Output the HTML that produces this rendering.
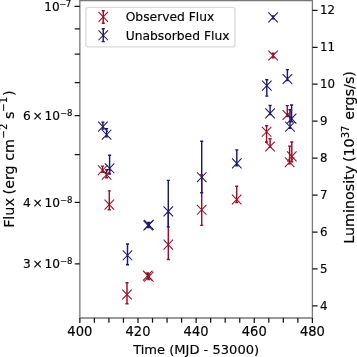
<!DOCTYPE html>
<html><head><meta charset="utf-8"><title>Flux plot</title>
<style>html,body{margin:0;padding:0;background:#fff;}svg{display:block;will-change:transform;}text{stroke:#000;stroke-width:0.16px;}</style>
</head><body>
<svg width="357" height="357" viewBox="0 0 357 357" font-family="'DejaVu Sans', 'Liberation Sans', sans-serif" fill="#000" stroke="none">
<rect width="357" height="357" fill="#fff"/>
<g>
<path d="M102.60 166.10V172.40" stroke="#9a0f27" stroke-width="1.45" fill="none"/>
<path d="M106.60 169.70V177.70" stroke="#9a0f27" stroke-width="1.45" fill="none"/>
<path d="M109.30 190.90V209.80" stroke="#9a0f27" stroke-width="1.45" fill="none"/>
<path d="M127.00 282.70V303.70" stroke="#9a0f27" stroke-width="1.45" fill="none"/>
<path d="M147.70 273.00V278.40" stroke="#9a0f27" stroke-width="1.45" fill="none"/>
<path d="M148.80 274.20V279.60" stroke="#9a0f27" stroke-width="1.45" fill="none"/>
<path d="M168.30 213.00V259.50" stroke="#9a0f27" stroke-width="1.45" fill="none"/>
<path d="M201.70 174.60V225.40" stroke="#9a0f27" stroke-width="1.45" fill="none"/>
<path d="M236.70 186.30V202.50" stroke="#9a0f27" stroke-width="1.45" fill="none"/>
<path d="M266.60 125.80V142.00" stroke="#9a0f27" stroke-width="1.45" fill="none"/>
<path d="M270.10 138.70V147.40" stroke="#9a0f27" stroke-width="1.45" fill="none"/>
<path d="M273.10 53.30V57.70" stroke="#9a0f27" stroke-width="1.45" fill="none"/>
<path d="M287.30 105.60V116.50" stroke="#9a0f27" stroke-width="1.45" fill="none"/>
<path d="M291.80 142.00V161.80" stroke="#9a0f27" stroke-width="1.45" fill="none"/>
<path d="M289.60 146.10V163.80" stroke="#9a0f27" stroke-width="1.45" fill="none"/>
<path d="M102.90 122.10V129.10" stroke="#191970" stroke-width="1.45" fill="none"/>
<path d="M106.60 128.60V136.90" stroke="#191970" stroke-width="1.45" fill="none"/>
<path d="M109.60 155.20V174.00" stroke="#191970" stroke-width="1.45" fill="none"/>
<path d="M127.50 244.00V264.80" stroke="#191970" stroke-width="1.45" fill="none"/>
<path d="M148.20 223.00V227.60" stroke="#191970" stroke-width="1.45" fill="none"/>
<path d="M148.90 222.40V227.00" stroke="#191970" stroke-width="1.45" fill="none"/>
<path d="M168.30 180.40V226.90" stroke="#191970" stroke-width="1.45" fill="none"/>
<path d="M201.70 141.20V192.80" stroke="#191970" stroke-width="1.45" fill="none"/>
<path d="M236.80 149.90V165.80" stroke="#191970" stroke-width="1.45" fill="none"/>
<path d="M266.80 79.70V96.10" stroke="#191970" stroke-width="1.45" fill="none"/>
<path d="M270.10 105.50V114.60" stroke="#191970" stroke-width="1.45" fill="none"/>
<path d="M273.10 15.90V18.90" stroke="#191970" stroke-width="1.45" fill="none"/>
<path d="M287.40 69.60V80.60" stroke="#191970" stroke-width="1.45" fill="none"/>
<path d="M291.60 105.00V121.70" stroke="#191970" stroke-width="1.45" fill="none"/>
<path d="M290.00 109.80V128.20" stroke="#191970" stroke-width="1.45" fill="none"/>
<path d="M101.05 166.10H104.15M101.05 172.40H104.15" stroke="#9a0f27" stroke-width="1.4" fill="none"/>
<path d="M97.85 165.25L107.35 175.15M97.85 175.15L107.35 165.25" stroke="#9a0f27" stroke-width="1.05" fill="none"/>
<path d="M105.05 169.70H108.15M105.05 177.70H108.15" stroke="#9a0f27" stroke-width="1.4" fill="none"/>
<path d="M101.85 169.75L111.35 179.65M101.85 179.65L111.35 169.75" stroke="#9a0f27" stroke-width="1.05" fill="none"/>
<path d="M107.75 190.90H110.85M107.75 209.80H110.85" stroke="#9a0f27" stroke-width="1.4" fill="none"/>
<path d="M104.55 199.65L114.05 209.55M104.55 209.55L114.05 199.65" stroke="#9a0f27" stroke-width="1.05" fill="none"/>
<path d="M125.45 282.70H128.55M125.45 303.70H128.55" stroke="#9a0f27" stroke-width="1.4" fill="none"/>
<path d="M122.25 289.55L131.75 299.45M122.25 299.45L131.75 289.55" stroke="#9a0f27" stroke-width="1.05" fill="none"/>
<path d="M146.15 273.00H149.25M146.15 278.40H149.25" stroke="#9a0f27" stroke-width="1.4" fill="none"/>
<path d="M142.95 270.65L152.45 280.55M142.95 280.55L152.45 270.65" stroke="#9a0f27" stroke-width="1.05" fill="none"/>
<path d="M147.25 274.20H150.35M147.25 279.60H150.35" stroke="#9a0f27" stroke-width="1.4" fill="none"/>
<path d="M144.05 271.75L153.55 281.65M144.05 281.65L153.55 271.75" stroke="#9a0f27" stroke-width="1.05" fill="none"/>
<path d="M166.75 213.00H169.85M166.75 259.50H169.85" stroke="#9a0f27" stroke-width="1.4" fill="none"/>
<path d="M163.55 239.65L173.05 249.55M163.55 249.55L173.05 239.65" stroke="#9a0f27" stroke-width="1.05" fill="none"/>
<path d="M200.15 174.60H203.25M200.15 225.40H203.25" stroke="#9a0f27" stroke-width="1.4" fill="none"/>
<path d="M196.95 204.85L206.45 214.75M196.95 214.75L206.45 204.85" stroke="#9a0f27" stroke-width="1.05" fill="none"/>
<path d="M235.15 186.30H238.25M235.15 202.50H238.25" stroke="#9a0f27" stroke-width="1.4" fill="none"/>
<path d="M231.95 194.55L241.45 204.45M231.95 204.45L241.45 194.55" stroke="#9a0f27" stroke-width="1.05" fill="none"/>
<path d="M265.05 125.80H268.15M265.05 142.00H268.15" stroke="#9a0f27" stroke-width="1.4" fill="none"/>
<path d="M261.85 126.85L271.35 136.75M261.85 136.75L271.35 126.85" stroke="#9a0f27" stroke-width="1.05" fill="none"/>
<path d="M268.55 138.70H271.65M268.55 147.40H271.65" stroke="#9a0f27" stroke-width="1.4" fill="none"/>
<path d="M265.35 141.55L274.85 151.45M265.35 151.45L274.85 141.55" stroke="#9a0f27" stroke-width="1.05" fill="none"/>
<path d="M271.55 53.30H274.65M271.55 57.70H274.65" stroke="#9a0f27" stroke-width="1.4" fill="none"/>
<path d="M268.35 50.55L277.85 60.45M268.35 60.45L277.85 50.55" stroke="#9a0f27" stroke-width="1.05" fill="none"/>
<path d="M285.75 105.60H288.85M285.75 116.50H288.85" stroke="#9a0f27" stroke-width="1.4" fill="none"/>
<path d="M282.55 110.05L292.05 119.95M282.55 119.95L292.05 110.05" stroke="#9a0f27" stroke-width="1.05" fill="none"/>
<path d="M290.25 142.00H293.35M290.25 161.80H293.35" stroke="#9a0f27" stroke-width="1.4" fill="none"/>
<path d="M287.05 151.45L296.55 161.35M287.05 161.35L296.55 151.45" stroke="#9a0f27" stroke-width="1.05" fill="none"/>
<path d="M288.05 146.10H291.15M288.05 163.80H291.15" stroke="#9a0f27" stroke-width="1.4" fill="none"/>
<path d="M284.85 157.25L294.35 167.15M284.85 167.15L294.35 157.25" stroke="#9a0f27" stroke-width="1.05" fill="none"/>
<path d="M101.35 122.10H104.45M101.35 129.10H104.45" stroke="#191970" stroke-width="1.4" fill="none"/>
<path d="M98.15 121.65L107.65 131.55M98.15 131.55L107.65 121.65" stroke="#191970" stroke-width="1.05" fill="none"/>
<path d="M105.05 128.60H108.15M105.05 136.90H108.15" stroke="#191970" stroke-width="1.4" fill="none"/>
<path d="M101.85 129.75L111.35 139.65M101.85 139.65L111.35 129.75" stroke="#191970" stroke-width="1.05" fill="none"/>
<path d="M108.05 155.20H111.15M108.05 174.00H111.15" stroke="#191970" stroke-width="1.4" fill="none"/>
<path d="M104.85 163.35L114.35 173.25M104.85 173.25L114.35 163.35" stroke="#191970" stroke-width="1.05" fill="none"/>
<path d="M125.95 244.00H129.05M125.95 264.80H129.05" stroke="#191970" stroke-width="1.4" fill="none"/>
<path d="M122.75 250.35L132.25 260.25M122.75 260.25L132.25 250.35" stroke="#191970" stroke-width="1.05" fill="none"/>
<path d="M146.65 223.00H149.75M146.65 227.60H149.75" stroke="#191970" stroke-width="1.4" fill="none"/>
<path d="M143.45 220.55L152.95 230.45M143.45 230.45L152.95 220.55" stroke="#191970" stroke-width="1.05" fill="none"/>
<path d="M147.35 222.40H150.45M147.35 227.00H150.45" stroke="#191970" stroke-width="1.4" fill="none"/>
<path d="M144.15 219.95L153.65 229.85M144.15 229.85L153.65 219.95" stroke="#191970" stroke-width="1.05" fill="none"/>
<path d="M166.75 180.40H169.85M166.75 226.90H169.85" stroke="#191970" stroke-width="1.4" fill="none"/>
<path d="M163.55 206.45L173.05 216.35M163.55 216.35L173.05 206.45" stroke="#191970" stroke-width="1.05" fill="none"/>
<path d="M200.15 141.20H203.25M200.15 192.80H203.25" stroke="#191970" stroke-width="1.4" fill="none"/>
<path d="M196.95 172.25L206.45 182.15M196.95 182.15L206.45 172.25" stroke="#191970" stroke-width="1.05" fill="none"/>
<path d="M235.25 149.90H238.35M235.25 165.80H238.35" stroke="#191970" stroke-width="1.4" fill="none"/>
<path d="M232.05 158.45L241.55 168.35M232.05 168.35L241.55 158.45" stroke="#191970" stroke-width="1.05" fill="none"/>
<path d="M265.25 79.70H268.35M265.25 96.10H268.35" stroke="#191970" stroke-width="1.4" fill="none"/>
<path d="M262.05 80.65L271.55 90.55M262.05 90.55L271.55 80.65" stroke="#191970" stroke-width="1.05" fill="none"/>
<path d="M268.55 105.50H271.65M268.55 114.60H271.65" stroke="#191970" stroke-width="1.4" fill="none"/>
<path d="M265.35 108.45L274.85 118.35M265.35 118.35L274.85 108.45" stroke="#191970" stroke-width="1.05" fill="none"/>
<path d="M271.55 15.90H274.65M271.55 18.90H274.65" stroke="#191970" stroke-width="1.4" fill="none"/>
<path d="M268.35 12.45L277.85 22.35M268.35 22.35L277.85 12.45" stroke="#191970" stroke-width="1.05" fill="none"/>
<path d="M285.85 69.60H288.95M285.85 80.60H288.95" stroke="#191970" stroke-width="1.4" fill="none"/>
<path d="M282.65 74.05L292.15 83.95M282.65 83.95L292.15 74.05" stroke="#191970" stroke-width="1.05" fill="none"/>
<path d="M290.05 105.00H293.15M290.05 121.70H293.15" stroke="#191970" stroke-width="1.4" fill="none"/>
<path d="M286.85 113.65L296.35 123.55M286.85 123.55L296.35 113.65" stroke="#191970" stroke-width="1.05" fill="none"/>
<path d="M288.45 109.80H291.55M288.45 128.20H291.55" stroke="#191970" stroke-width="1.4" fill="none"/>
<path d="M285.25 121.75L294.75 131.65M285.25 131.65L294.75 121.75" stroke="#191970" stroke-width="1.05" fill="none"/>
</g>
<path d="M79.85 0.0V318.65M312.4 0.0V318.65M79.19999999999999 0.65H313.04999999999995M79.19999999999999 318.0H313.04999999999995" fill="none" stroke="#787878" stroke-width="1.3"/>
<path d="M79.85 318.0v4.9M94.38 318.0v4.75M108.92 318.0v4.75M123.45 318.0v4.75M137.99 318.0v4.9M152.52 318.0v4.75M167.06 318.0v4.75M181.59 318.0v4.75M196.12 318.0v4.9M210.66 318.0v4.75M225.19 318.0v4.75M239.73 318.0v4.75M254.26 318.0v4.9M268.80 318.0v4.75M283.33 318.0v4.75M297.87 318.0v4.75M312.40 318.0v4.9" stroke="#141414" stroke-width="1.25" fill="none"/>
<text transform="translate(79.85 335.55) scale(1 1.11)" font-size="13.1" text-anchor="middle">400</text>
<text transform="translate(137.99 335.55) scale(1 1.11)" font-size="13.1" text-anchor="middle">420</text>
<text transform="translate(196.12 335.55) scale(1 1.11)" font-size="13.1" text-anchor="middle">440</text>
<text transform="translate(254.26 335.55) scale(1 1.11)" font-size="13.1" text-anchor="middle">460</text>
<text transform="translate(312.40 335.55) scale(1 1.11)" font-size="13.1" text-anchor="middle">480</text>
<text x="196.12" y="354.3" font-size="13.05" text-anchor="middle">Time (MJD - 53000)</text>
<path d="M79.85 6.30h-5.4M79.85 28.85h-5.1M79.85 54.06h-5.1M79.85 82.64h-5.1M79.85 115.63h-5.1M79.85 154.65h-5.1M79.85 202.40h-5.1M79.85 263.97h-5.1" stroke="#141414" stroke-width="1.25" fill="none"/>
<text x="44.3" y="10.90" font-size="12.0">10<tspan dy="-3.7" dx="-0.4" font-size="8.54">−<tspan dx="-0.6">7</tspan></tspan></text>
<text x="23.0" y="120.13" font-size="12.2">6<tspan dx="1.7">×</tspan><tspan dx="1.9">10</tspan><tspan dy="-4.0" dx="0.0" font-size="8.54">−<tspan dx="-0.2">8</tspan></tspan></text>
<text x="23.0" y="206.90" font-size="12.2">4<tspan dx="1.7">×</tspan><tspan dx="1.9">10</tspan><tspan dy="-4.0" dx="0.0" font-size="8.54">−<tspan dx="-0.2">8</tspan></tspan></text>
<text x="23.0" y="268.47" font-size="12.2">3<tspan dx="1.7">×</tspan><tspan dx="1.9">10</tspan><tspan dy="-4.0" dx="0.0" font-size="8.54">−<tspan dx="-0.2">8</tspan></tspan></text>
<text transform="translate(13.5 159.2) rotate(-90) scale(1 1.01)" font-size="14.3" text-anchor="middle"><tspan letter-spacing="0.02">Flux</tspan><tspan dx="-0.9"> (erg cm</tspan><tspan dy="-6.3" dx="0.7" font-size="10.01">−2</tspan><tspan dy="6.3"> s</tspan><tspan dy="-6.3" font-size="10.01">−1</tspan><tspan dy="6.3" dx="0.8">)</tspan></text>
<path d="M312.4 305.90h5.2M312.4 268.95h5.2M312.4 232.00h5.2M312.4 195.05h5.2M312.4 158.10h5.2M312.4 121.15h5.2M312.4 84.20h5.2M312.4 47.25h5.2M312.4 10.30h5.2" stroke="#141414" stroke-width="1.25" fill="none"/>
<text x="320.0" y="310.00" font-size="11.8">4</text>
<text x="320.0" y="273.05" font-size="11.8">5</text>
<text x="320.0" y="236.10" font-size="11.8">6</text>
<text x="320.0" y="199.15" font-size="11.8">7</text>
<text x="320.0" y="162.20" font-size="11.8">8</text>
<text x="320.0" y="125.25" font-size="11.8">9</text>
<text x="320.0" y="88.30" font-size="11.8">10</text>
<text x="320.0" y="51.35" font-size="11.8">11</text>
<text x="320.0" y="14.40" font-size="11.8">12</text>
<text transform="translate(354.2 157.4) rotate(-90) scale(1 1.03)" font-size="14.3" text-anchor="middle"><tspan letter-spacing="0.02">Luminosity</tspan><tspan dx="-1.0"> (10</tspan><tspan dy="-5.4" font-size="10.01">37</tspan><tspan dy="5.4" dx="1.2"> ergs/s)</tspan></text>
<rect x="85.9" y="7.4" width="149.1" height="39.5" rx="2.4" ry="2.4" fill="#fff" fill-opacity="0.8" stroke="#dadada" stroke-width="1.4"/>
<path d="M103.25 10.7V23.3" stroke="#9a0f27" stroke-width="1.45" fill="none"/>
<path d="M101.70 10.7H104.80M101.70 23.3H104.80" stroke="#9a0f27" stroke-width="1.4" fill="none"/>
<path d="M98.50 11.95L108.00 21.85M98.50 21.85L108.00 11.95" stroke="#9a0f27" stroke-width="1.05" fill="none"/>
<text x="125.7" y="21.2" font-size="12.3">Observed Flux</text>
<path d="M103.25 28.8V41.6" stroke="#191970" stroke-width="1.45" fill="none"/>
<path d="M101.70 28.8H104.80M101.70 41.6H104.80" stroke="#191970" stroke-width="1.4" fill="none"/>
<path d="M98.50 30.35L108.00 40.25M98.50 40.25L108.00 30.35" stroke="#191970" stroke-width="1.05" fill="none"/>
<text x="125.7" y="39.5" font-size="12.3">Unabsorbed Flux</text>
</svg>
</body></html>
